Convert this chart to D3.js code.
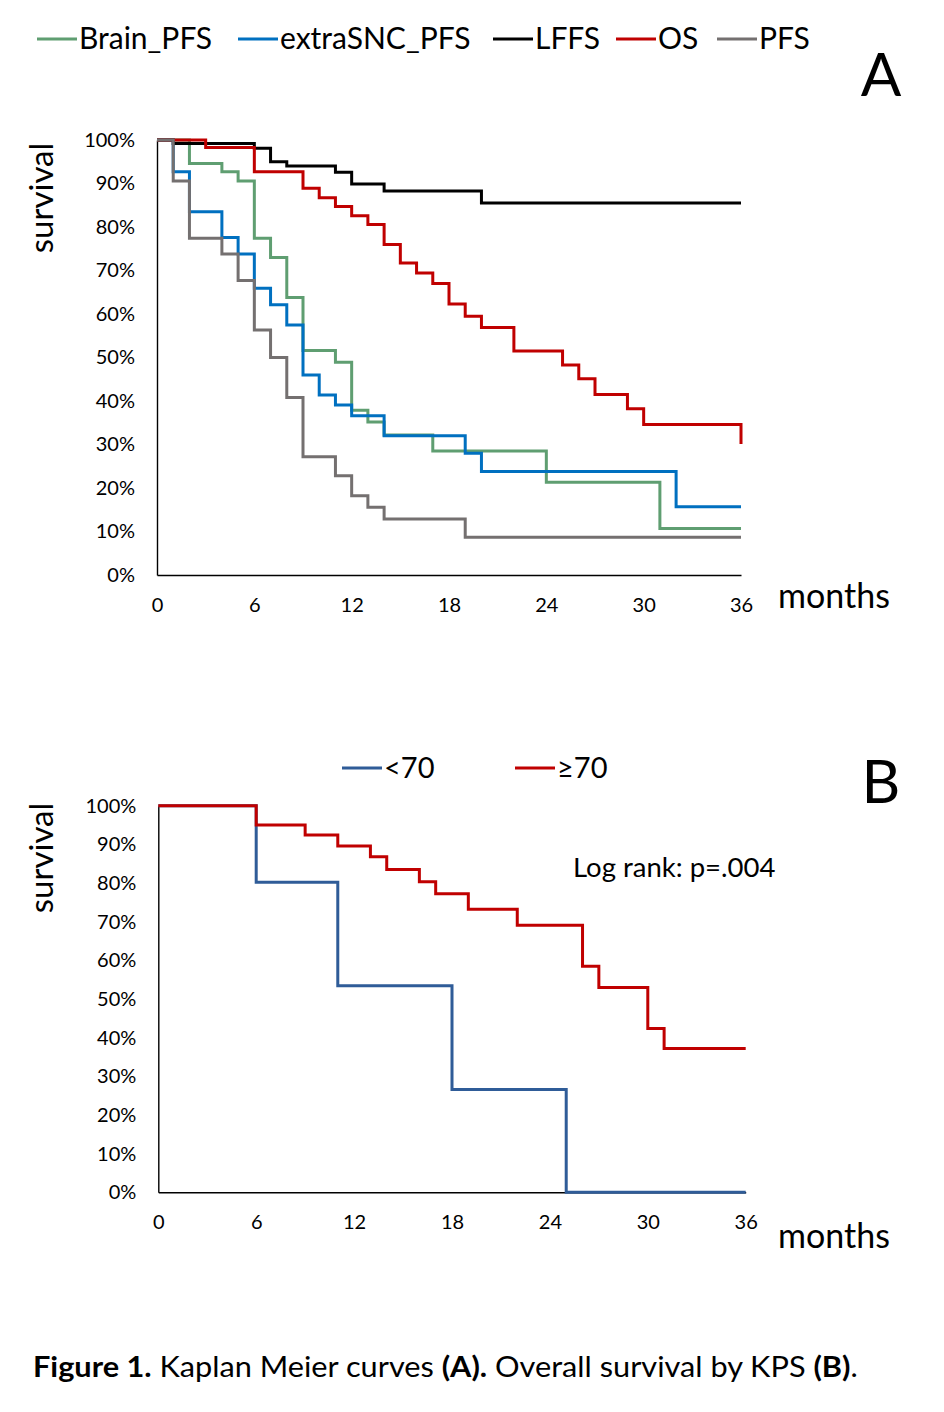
<!DOCTYPE html>
<html>
<head>
<meta charset="utf-8">
<script src="https://cdn.jsdelivr.net/npm/d3@7"></script>
<style>
  html, body { margin: 0; padding: 0; background: #fff; }
  svg { display: block; font-family: Lato, "Open Sans", sans-serif; }
</style>
</head>
<body>
<svg id="chart" width="944" height="1412"></svg>
<script>
// ---------- DATA ----------
const monthTicks = [0, 6, 12, 18, 24, 30, 36];
const pctTicks = [0, 10, 20, 30, 40, 50, 60, 70, 80, 90, 100];

// Panel A series (step change points: month, survival %)
const seriesNamesA = ["Brain_PFS", "extraSNC_PFS", "LFFS", "OS", "PFS"];
const brainPFS_t = [0, 2, 4, 5, 6, 7, 8, 9, 11, 12, 13, 14, 17, 24, 31, 36];
const brainPFS_s = [100, 94.6, 92.7, 90.6, 77.4, 73, 63.8, 51.6, 48.9, 37.9, 35.2, 32.2, 28.5, 21.3, 10.7, 10.7];
const extraSNC_t = [0, 1, 2, 4, 5, 6, 7, 8, 9, 10, 11, 12, 14, 19, 20, 32, 36];
const extraSNC_s = [100, 92.7, 83.5, 77.6, 73.8, 65.9, 62.1, 57.5, 46, 41.4, 39.1, 36.6, 32, 28, 23.8, 15.7, 15.7];
const lffs_t = [0, 1, 6, 7, 8, 11, 12, 14, 20, 36];
const lffs_s = [100, 99.2, 98.1, 95, 94, 92.6, 89.9, 88.3, 85.5, 85.5];
const os_t = [0, 3, 6, 9, 10, 11, 12, 13, 14, 15, 16, 17, 18, 19, 20, 22, 25, 26, 27, 29, 30, 36];
const os_s = [100, 98.3, 92.7, 88.9, 86.7, 84.7, 82.6, 80.6, 76, 71.7, 69.4, 67, 62.3, 59.5, 56.9, 51.5, 48.3, 45.1, 41.5, 38.2, 34.6, 30.1];
const pfs_t = [0, 1, 2, 4, 5, 6, 7, 8, 9, 11, 12, 13, 14, 19, 36];
const pfs_s = [100, 90.6, 77.4, 73.8, 67.7, 56.3, 50, 40.8, 27.2, 22.8, 18.2, 15.6, 12.9, 8.7, 8.7];

// Panel B series
const seriesNamesB = ["<70", "\u226570"];
const lt70_t = [0, 6, 11, 18, 25, 36];
const lt70_s = [100, 80.2, 53.4, 26.6, 0, 0];
const ge70_t = [0, 6, 9, 11, 13, 14, 16, 17, 19, 22, 26, 27, 30, 31, 36];
const ge70_s = [100, 95, 92.4, 89.6, 86.8, 83.5, 80.3, 77.2, 73.2, 69.1, 58.5, 53, 42.4, 37.2, 37.2];

const logRankText = "Log rank: p=.004";

// ---------- STYLE / LAYOUT ----------
const colorsA = ["#5F9E71", "#0070C0", "#000000", "#C00000", "#747070"];
const colorsB = ["#2F5C98", "#C00000"];
const zip = (t, s) => t.map((d, i) => ({ t: d, s: s[i] }));
const dataA = [zip(brainPFS_t, brainPFS_s), zip(extraSNC_t, extraSNC_s), zip(lffs_t, lffs_s), zip(os_t, os_s), zip(pfs_t, pfs_s)];
const dataB = [zip(lt70_t, lt70_s), zip(ge70_t, ge70_s)];

const svg = d3.select("#chart");
svg.append("rect").attr("width", 944).attr("height", 1412).attr("fill", "#fff");

function panel(cfg) {
  const x = d3.scaleLinear().domain([0, 36]).range([cfg.x0, cfg.x1]);
  const y = d3.scaleLinear().domain([0, 100]).range([cfg.y0, cfg.y1]);
  const g = svg.append("g");

  const ay = g.append("g").attr("transform", `translate(${cfg.x0},0)`)
    .call(d3.axisLeft(y).tickValues(pctTicks).tickSize(0).tickSizeOuter(0).tickPadding(22).tickFormat(d => d + "%"));
  const ax = g.append("g").attr("transform", `translate(0,${cfg.y0})`)
    .call(d3.axisBottom(x).tickValues(monthTicks).tickSize(0).tickSizeOuter(0).tickPadding(23));
  [ax, ay].forEach(a => {
    a.select(".domain").attr("stroke", "#000").attr("stroke-width", 1.4);
    a.selectAll("text").attr("font-family", "Lato").attr("font-size", 20).attr("fill", "#000");
  });

  const line = d3.line().x(d => x(d.t)).y(d => y(d.s)).curve(d3.curveStepAfter);
  cfg.data.forEach((ser, i) => {
    g.append("path").datum(ser).attr("d", line)
      .attr("fill", "none").attr("stroke", cfg.colors[i]).attr("stroke-width", 3)
      .attr("stroke-linejoin", "miter").attr("stroke-linecap", "butt");
  });

  // axis titles
  g.append("text").attr("transform", `translate(53,${cfg.ylabY}) rotate(-90)`)
    .attr("text-anchor", "middle").attr("font-size", 33).text("survival");
  g.append("text").attr("x", 778).attr("y", cfg.monthsY)
    .attr("font-size", 34).text("months");

  // legend
  cfg.names.forEach((n, i) => {
    const lx = cfg.legX[i];
    g.append("line").attr("x1", lx).attr("x2", lx + 40).attr("y1", cfg.legY).attr("y2", cfg.legY)
      .attr("stroke", cfg.colors[i]).attr("stroke-width", 3);
    g.append("text").attr("x", lx + 42).attr("y", cfg.legY + 10)
      .attr("font-size", cfg.legFont).text(n);
  });

  // panel letter
  g.append("text").attr("x", 881).attr("y", cfg.letterY).attr("text-anchor", "middle")
    .attr("font-size", 60).text(cfg.letter);
  return { x, y, g };
}

panel({ x0: 157, x1: 741, y0: 575, y1: 140, data: dataA, colors: colorsA, names: seriesNamesA,
  legX: [37, 238, 493, 616, 717], legY: 39, legFont: 30, ylabY: 198, letter: "A", letterY: 96, monthsY: 608 });

const pB = panel({ x0: 158.3, x1: 745.7, y0: 1192.3, y1: 805.7, data: dataB, colors: colorsB, names: seriesNamesB,
  legX: [342, 515], legY: 768, legFont: 29, ylabY: 858, letter: "B", letterY: 803, monthsY: 1248 });

pB.g.append("text").attr("x", 573).attr("y", 877).attr("font-size", 27.5).text(logRankText);

// caption
const cap = svg.append("text").attr("x", 0).attr("y", 0).attr("font-size", 29);
const parts = [["Figure 1.", true], [" Kaplan Meier curves ", false], ["(A).", true], [" Overall survival by KPS ", false], ["(B)", true], [".", false]];
parts.forEach(p => cap.append("tspan").attr("font-weight", p[1] ? "bold" : "normal").text(p[0]));
const w = cap.node().getComputedTextLength();
const sx = (858 - 33) / w;
cap.attr("transform", `translate(33,1377) scale(${sx},1)`);
</script>
</body>
</html>
